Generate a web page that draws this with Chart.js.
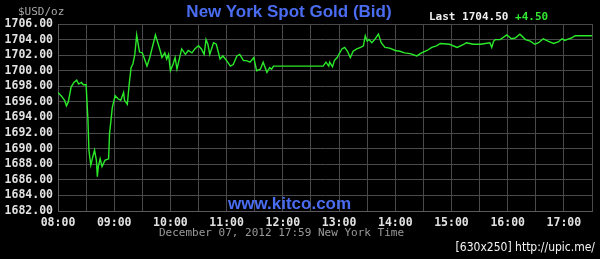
<!DOCTYPE html>
<html>
<head>
<meta charset="utf-8">
<script src="https://cdn.jsdelivr.net/npm/chart.js@4/dist/chart.umd.min.js"></script>
<style>
  html, body { margin: 0; padding: 0; background: #000; }
  #wrap { position: relative; width: 600px; height: 259px; background: #000; overflow: hidden; }
  #wrap canvas { position: absolute; left: 0; top: 0; }
  .lbl { position: absolute; white-space: nowrap; line-height: 1; }
  .mono { font-family: "DejaVu Sans Mono", monospace; font-size: 11px; }
  .big { font-family: "Liberation Sans", Arial, sans-serif; font-weight: bold; font-size: 17px; color: #4a6cf0; }
</style>
</head>
<body>
<div id="wrap">
  <canvas id="grafico-ouro" width="600" height="259"></canvas>
  <div class="lbl mono" style="left:18px; top:6px; color:#a8a8a8;">$USD/oz</div>
  <div class="lbl big" style="left:289px; top:3px; transform:translateX(-50%);">New York Spot Gold (Bid)</div>
  <div class="lbl mono" style="left:429px; top:11px; color:#f0f0f0; font-weight:bold;">Last 1704.50 <span style="color:#33e633;">+4.50</span></div>
  <div class="lbl big" style="left:228px; top:195px;">www.kitco.com</div>
  <div class="lbl mono" style="left:159px; top:227px; color:#9a9a9a;">December 07, 2012 17:59 New York Time</div>
  <div class="lbl" style="right:5px; top:241px; color:#f4f4f4; font-family:'DejaVu Sans Condensed','DejaVu Sans',sans-serif; font-size:12px;">[630x250] http://upic.me/</div>
</div>
<script>
// horario (New York) e preco do ouro
const horarios = [
  '08:00','08:04','08:07','08:09','08:11','08:14','08:17','08:20','08:22','08:25',
  '08:27','08:30','08:32','08:33','08:35','08:37','08:39','08:41','08:42','08:43',
  '08:45','08:47','08:50','08:54','08:55','08:58','09:01','09:04','09:07','09:10',
  '09:11','09:14','09:16','09:18','09:20','09:22','09:24','09:27','09:30','09:35',
  '09:38','09:44','09:49','09:51','09:54','09:56','09:58','10:00','10:03','10:05',
  '10:07','10:12','10:16','10:19','10:23','10:26','10:30','10:33','10:36','10:38',
  '10:40','10:42','10:46','10:49','10:53','10:56','11:00','11:04','11:07','11:11',
  '11:14','11:18','11:21','11:25','11:29','11:32','11:36','11:39','11:43','11:46',
  '11:48','11:50','12:43','12:46','12:49','12:50','12:53','12:55','12:58','13:03',
  '13:06','13:09','13:12','13:15','13:19','13:23','13:26','13:28','13:30','13:32',
  '13:35','13:38','13:42','13:45','13:49','13:54','14:00','14:05','14:10','14:16',
  '14:23','14:28','14:34','14:39','14:44','14:48','14:58','15:06','15:13','15:16',
  '15:23','15:31','15:41','15:43','15:45','15:47','15:52','15:59','16:04','16:08',
  '16:13','16:19','16:24','16:29','16:33','16:38','16:43','16:49','16:54','16:58',
  '17:01','17:05','17:08','17:12','17:30'
];
const precos = [
  1697.2, 1696.7, 1696.2, 1695.5, 1696.0, 1697.9, 1698.5, 1698.8, 1698.3, 1698.5,
  1698.2, 1698.2, 1693.6, 1689.8, 1687.9, 1688.9, 1689.8, 1688.5, 1686.4, 1687.7,
  1688.7, 1687.7, 1688.5, 1688.7, 1691.9, 1695.3, 1696.8, 1696.4, 1696.2, 1697.2,
  1696.2, 1695.7, 1698.3, 1700.4, 1700.9, 1702.1, 1704.6, 1702.4, 1702.3, 1700.6,
  1701.7, 1704.6, 1702.6, 1701.7, 1702.3, 1701.5, 1702.1, 1700.0, 1700.9, 1701.7,
  1700.2, 1702.8, 1702.1, 1702.6, 1702.3, 1702.8, 1703.2, 1702.8, 1702.1, 1704.0,
  1703.4, 1702.1, 1703.6, 1703.4, 1701.5, 1701.9, 1701.3, 1700.6, 1700.8, 1701.9,
  1702.1, 1701.3, 1701.3, 1701.1, 1701.7, 1700.0, 1700.2, 1701.1, 1699.8, 1700.4,
  1700.2, 1700.6, 1700.6, 1701.1, 1700.6, 1701.1, 1700.5, 1701.3, 1701.7, 1702.8,
  1703.0, 1702.5, 1701.7, 1702.5, 1702.8, 1703.0, 1703.2, 1704.5, 1703.8, 1704.0,
  1703.6, 1704.0, 1704.7, 1703.6, 1703.0, 1702.9, 1702.6, 1702.5, 1702.3, 1702.2,
  1701.9, 1702.3, 1702.6, 1703.0, 1703.2, 1703.5, 1703.4, 1703.0, 1703.4, 1703.6,
  1703.4, 1703.4, 1703.6, 1703.0, 1703.8, 1704.0, 1704.0, 1704.6, 1704.1, 1704.2,
  1704.7, 1704.0, 1703.8, 1703.4, 1703.6, 1704.1, 1703.8, 1703.5, 1703.7, 1704.1,
  1703.9, 1704.1, 1704.2, 1704.5, 1704.5
];
// eixos
const inicio = '08:00';
const fim = '17:30';
const precoMin = 1682;
const precoMax = 1706;

function paraMinutos(h) {
  const [hh, mm] = h.split(':').map(Number);
  return hh * 60 + mm;
}
function paraHora(m) {
  const hh = Math.floor(m / 60), mm = m % 60;
  return String(hh).padStart(2, '0') + ':' + String(mm).padStart(2, '0');
}

const base = paraMinutos(inicio);
const pontos = horarios.map((h, i) => ({ x: paraMinutos(h) - base, y: precos[i] }));

const fonteEixo = { family: 'DejaVu Sans Mono', size: 11.5, weight: 'bold' };

new Chart(document.getElementById('grafico-ouro'), {
  type: 'line',
  data: {
    datasets: [{
      data: pontos,
      borderColor: '#2aea2a',
      borderWidth: 1.4,
      pointRadius: 0,
      tension: 0,
      fill: false
    }]
  },
  options: {
    responsive: false,
    animation: false,
    devicePixelRatio: 1,
    layout: { padding: { top: 24, right: 8, left: 0, bottom: 0 } },
    plugins: { legend: { display: false }, tooltip: { enabled: false } },
    scales: {
      x: {
        type: 'linear',
        min: 0,
        max: paraMinutos(fim) - base,
        afterFit: s => { s.height = 48; },
        ticks: {
          stepSize: 30,
          autoSkip: false,
          maxRotation: 0,
          padding: 5,
          color: '#e2e2e2',
          font: fonteEixo,
          callback: v => (v % 60 === 0 ? paraHora(base + v) : '')
        },
        grid: { color: '#4a4a4a', drawTicks: false },
        border: { color: '#5a5a5a' }
      },
      y: {
        min: precoMin,
        max: precoMax,
        afterFit: s => { s.width = 58; },
        ticks: {
          stepSize: 2,
          autoSkip: false,
          padding: 5,
          color: '#e2e2e2',
          font: fonteEixo,
          callback: v => v.toFixed(2)
        },
        grid: { color: '#4a4a4a', drawTicks: false },
        border: { color: '#5a5a5a' }
      }
    }
  }
});
</script>
</body>
</html>
